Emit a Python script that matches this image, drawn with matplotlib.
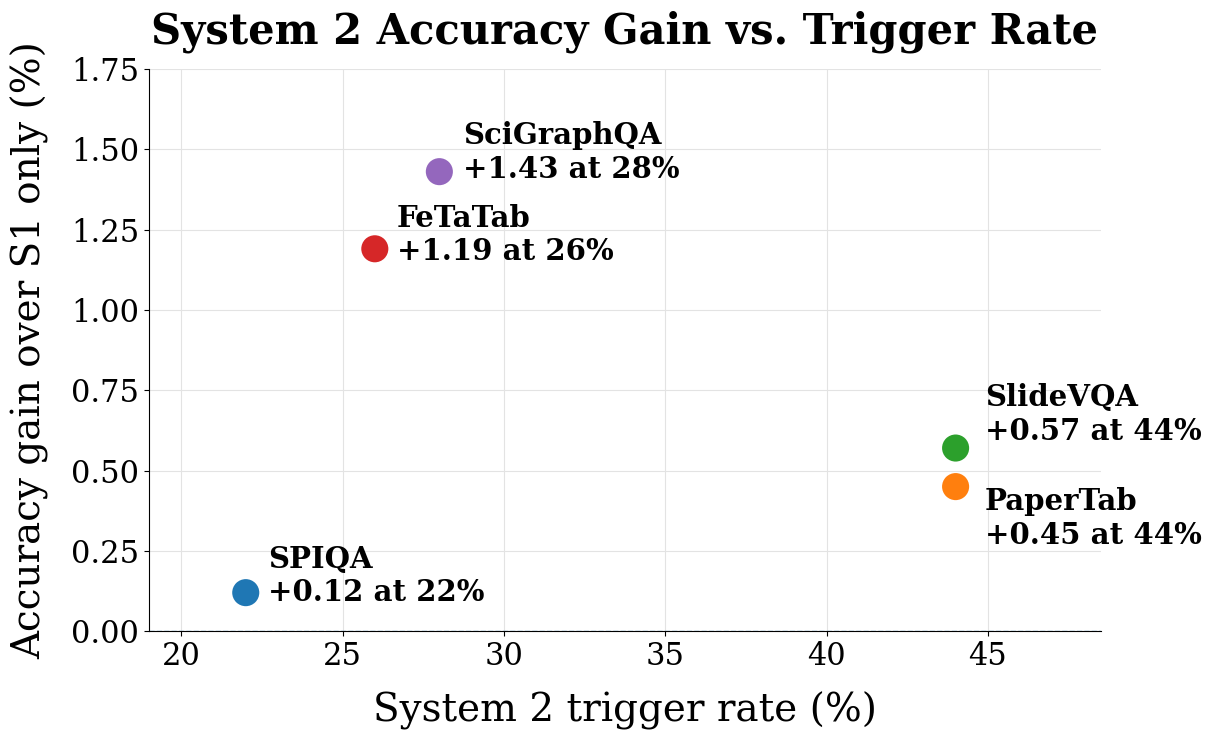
import matplotlib
matplotlib.use("Agg")
import matplotlib.pyplot as plt

datasets = ["SPIQA", "PaperTab", "SlideVQA", "FeTaTab", "SciGraphQA"]
trigger_rate = [22, 44, 44, 26, 28]
acc_gain = [0.12, 0.45, 0.57, 1.19, 1.43]

colors = ["#1f77b4", "#ff7f0e", "#2ca02c", "#d62728", "#9467bd"]
offsets = {"SPIQA": (16, 12), "PaperTab": (21, -23), "SlideVQA": (21, 24),
           "FeTaTab": (16, 10), "SciGraphQA": (17, 14)}

plt.rcParams['font.family'] = ['DejaVu Serif']
fig = plt.figure(figsize=(12.11, 7.4), dpi=100)
ax = fig.add_axes([0.123, 0.147, 0.786, 0.760])

for name, x, y, c in zip(datasets, trigger_rate, acc_gain, colors):
    ax.scatter(x, y, s=380, color=c, zorder=3, edgecolors='none')
    dx, dy = offsets[name]
    ax.annotate(f"{name}\n+{y:.2f} at {x}%", (x, y), xytext=(dx, dy),
                textcoords='offset points', ha='left', va='center',
                fontsize=21, fontweight='bold', annotation_clip=False)

ax.axhline(0, color='#1f77b4', ls='--', lw=1, alpha=0.7, zorder=3)
ax.set_xlim(19, 48.5)
ax.set_ylim(0, 1.75)
ax.set_xticks([20, 25, 30, 35, 40, 45])
ax.set_yticks([0, 0.25, 0.5, 0.75, 1.0, 1.25, 1.5, 1.75])
ax.yaxis.set_major_formatter(matplotlib.ticker.FormatStrFormatter('%.2f'))
ax.tick_params(labelsize=22)
ax.grid(True, color='#e3e3e3', lw=0.8, zorder=0)
ax.set_axisbelow(True)
ax.spines['top'].set_visible(False)
ax.spines['right'].set_visible(False)
ax.set_xlabel("System 2 trigger rate (%)", fontsize=28, labelpad=14)
ax.set_ylabel("Accuracy gain over S1 only (%)", fontsize=28, labelpad=16)
ax.set_title("System 2 Accuracy Gain vs. Trigger Rate", fontsize=30, fontweight='bold', pad=18)

fig.savefig("out.png", dpi=100)
